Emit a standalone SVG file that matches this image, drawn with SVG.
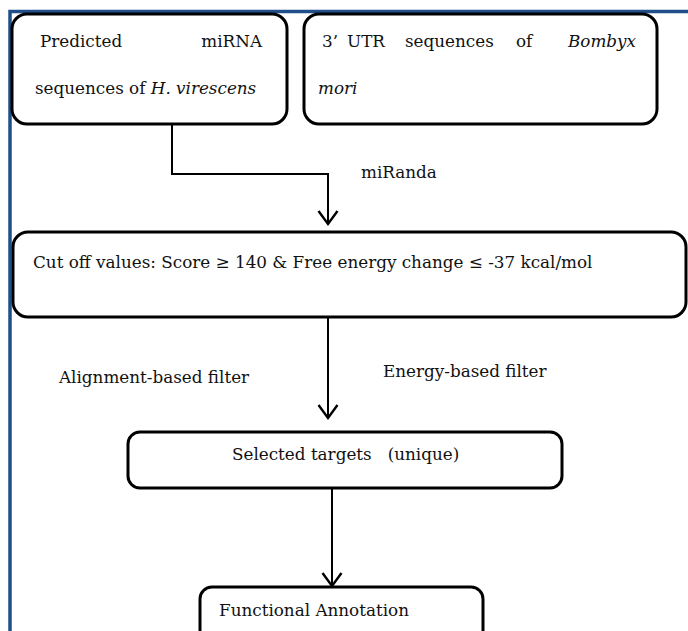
<svg xmlns="http://www.w3.org/2000/svg" width="688" height="631" viewBox="0 0 688 631">
  <defs>
    <style>
      .box { fill: #ffffff; stroke: #000000; stroke-width: 3; }
      .conn { fill: none; stroke: #000000; stroke-width: 2; }
      .t { font-family: "DejaVu Serif", "Liberation Serif", serif; font-size: 16.8px; fill: #111111; }
      .i { font-style: italic; }
      .frame { fill: none; stroke: #1F4E89; stroke-width: 3.5; }
    </style>
    <marker id="arrow" markerUnits="userSpaceOnUse" markerWidth="18" markerHeight="24" refX="15" refY="12" orient="auto">
      <path d="M2,2.5 L15,12 L2,21.5" fill="none" stroke="#000000" stroke-width="2.4"/>
    </marker>
  </defs>
  <rect width="688" height="631" fill="#ffffff"/>
  <path class="frame" d="M10 631 V11.5 H688"/>

  <g id="connectors">
    <path class="conn" d="M172 124 V174 H328 V224" marker-end="url(#arrow)"/>
    <path class="conn" d="M328 317 V418" marker-end="url(#arrow)"/>
    <path class="conn" d="M332 488 V586" marker-end="url(#arrow)"/>
    <text class="t" x="361" y="178">miRanda</text>
    <text class="t" x="59" y="383">Alignment-based filter</text>
    <text class="t" x="383" y="377">Energy-based filter</text>
  </g>

  <g id="node-mirna">
    <rect class="box" x="12" y="14" width="275" height="110" rx="15"/>
    <text class="t" y="47"><tspan x="40">Predicted</tspan><tspan x="262" text-anchor="end">miRNA</tspan></text>
    <text class="t" x="35" y="94">sequences of <tspan class="i">H. virescens</tspan></text>
  </g>

  <g id="node-utr">
    <rect class="box" x="304" y="14" width="353" height="110" rx="15"/>
    <text class="t" y="47"><tspan x="322">3’</tspan><tspan x="347">UTR</tspan><tspan x="405">sequences</tspan><tspan x="516">of</tspan><tspan class="i" x="568">Bombyx</tspan></text>
    <text class="t i" x="318" y="94">mori</text>
  </g>

  <g id="node-cutoff">
    <rect class="box" x="13" y="232" width="673" height="85" rx="15"/>
    <text class="t" x="33" y="268">Cut off values: Score ≥ 140 &amp; Free energy change ≤ -37 kcal/mol</text>
  </g>

  <g id="node-selected">
    <rect class="box" x="128" y="432" width="434" height="56" rx="12"/>
    <text class="t" x="232" y="460" xml:space="preserve">Selected targets   (unique)</text>
  </g>

  <g id="node-annotation">
    <rect class="box" x="200" y="587" width="283" height="60" rx="12"/>
    <text class="t" x="219" y="616">Functional Annotation</text>
  </g>
</svg>
